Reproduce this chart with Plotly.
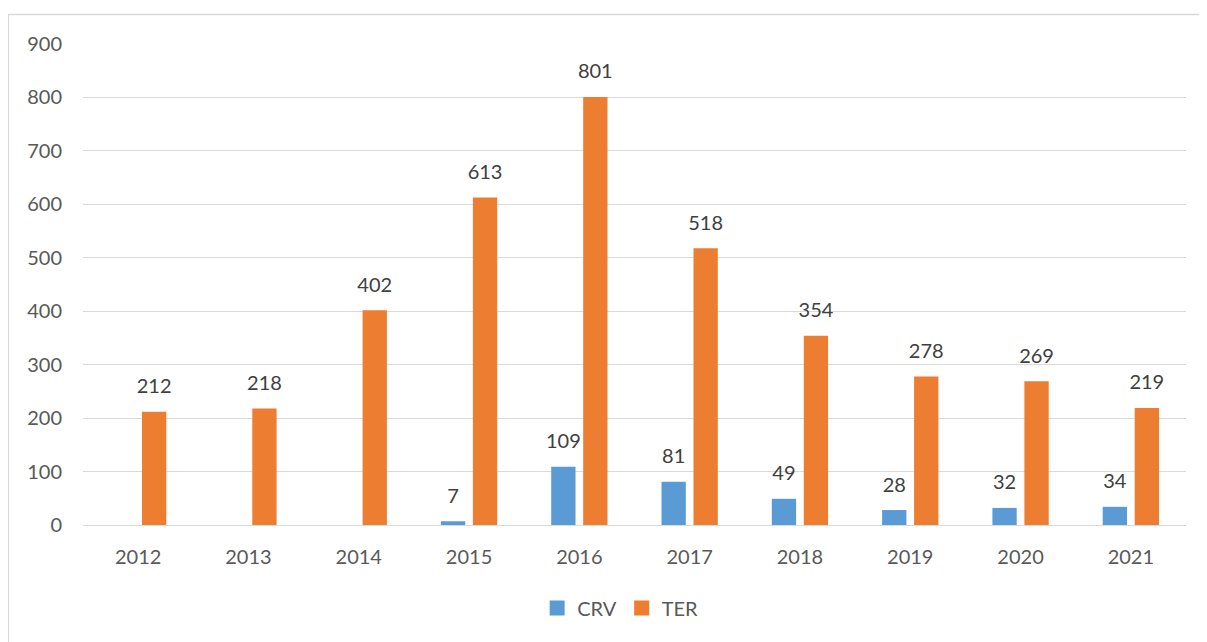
import plotly.graph_objects as go

years = ["2012", "2013", "2014", "2015", "2016", "2017", "2018", "2019", "2020", "2021"]
crv = [None, None, None, 7, 109, 81, 49, 28, 32, 34]
ter = [212, 218, 402, 613, 801, 518, 354, 278, 269, 219]
y_ticks = [0, 100, 200, 300, 400, 500, 600, 700, 800, 900]

BLUE = "#5B9BD5"
ORANGE = "#ED7D31"
FONT = "Lato"
FS = 20

# page body has an 8px margin, so the figure sits at (8, 8)
OFF = 8
W, H = 1207 - OFF, 642 - OFF
ML, MR, MT, MB = 83 - OFF, 21, 44 - OFF, 117
PW, PH = W - ML - MR, H - MT - MB

def px_x(p):
    return (p - OFF - ML) / PW

def px_y(p):
    return (H - MB - (p - OFF)) / PH

fig = go.Figure()
fig.add_trace(go.Bar(name="CRV", x=years, y=crv, marker=dict(color=BLUE, line=dict(width=0)),
                     offsetgroup="a", showlegend=False))
fig.add_trace(go.Bar(name="TER", x=years, y=ter, marker=dict(color=ORANGE, line=dict(width=0)),
                     offsetgroup="b", showlegend=False))

# data labels via grouped scatter text
fig.add_trace(go.Scatter(x=years, y=crv, mode="markers+text", text=[("" if v is None else str(v)) for v in crv],
                         textposition="top center", marker=dict(size=20, color="rgba(0,0,0,0)"),
                         textfont=dict(family=FONT, size=FS, color="#404040"),
                         showlegend=False, hoverinfo="skip", offsetgroup="a", cliponaxis=False))
fig.add_trace(go.Scatter(x=years, y=ter, mode="markers+text", text=[str(v) for v in ter],
                         textposition="top center", marker=dict(size=20, color="rgba(0,0,0,0)"),
                         textfont=dict(family=FONT, size=FS, color="#404040"),
                         showlegend=False, hoverinfo="skip", offsetgroup="b", cliponaxis=False))

# legend entries with larger square swatches
for name, col, grp in [("CRV", BLUE, "a"), ("TER", ORANGE, "b")]:
    fig.add_trace(go.Scatter(name=name, x=[years[0]], y=[None], mode="markers",
                             marker=dict(symbol="square", size=15, color=col),
                             offsetgroup=grp, hoverinfo="skip", showlegend=True))

fig.update_layout(
    width=W, height=H,
    margin=dict(l=ML, r=MR, t=MT, b=MB, autoexpand=False),
    paper_bgcolor="white", plot_bgcolor="white",
    barmode="group", bargap=0.42, bargroupgap=0.24,
    scattermode="group", scattergap=0.42,
    font=dict(family=FONT, size=FS, color="#595959"),
    showlegend=True,
    legend=dict(orientation="h", x=0.487, xanchor="center", y=px_y(608), yanchor="middle",
                font=dict(family=FONT, size=FS, color="#595959"), traceorder="normal",
                itemwidth=30, bgcolor="rgba(0,0,0,0)"),
    xaxis=dict(type="category", showgrid=False, showline=False, zeroline=False,
               ticks="", ticklabelstandoff=18,
               tickfont=dict(family=FONT, size=FS, color="#595959")),
    yaxis=dict(range=[0, 900], tickvals=y_ticks, showgrid=True, gridcolor="#D9D9D9", gridwidth=1,
               zeroline=True, zerolinecolor="#D9D9D9", zerolinewidth=1, showline=False,
               ticks="", ticklabelstandoff=20,
               tickfont=dict(family=FONT, size=FS, color="#595959")),
    shapes=[dict(type="rect", xref="paper", yref="paper",
                 x0=px_x(8.5), x1=px_x(1206.5), y0=px_y(700), y1=px_y(14.5),
                 line=dict(color="#D9D9D9", width=1.3), fillcolor="rgba(0,0,0,0)", layer="below")],
)

fig.write_html("out.html")
